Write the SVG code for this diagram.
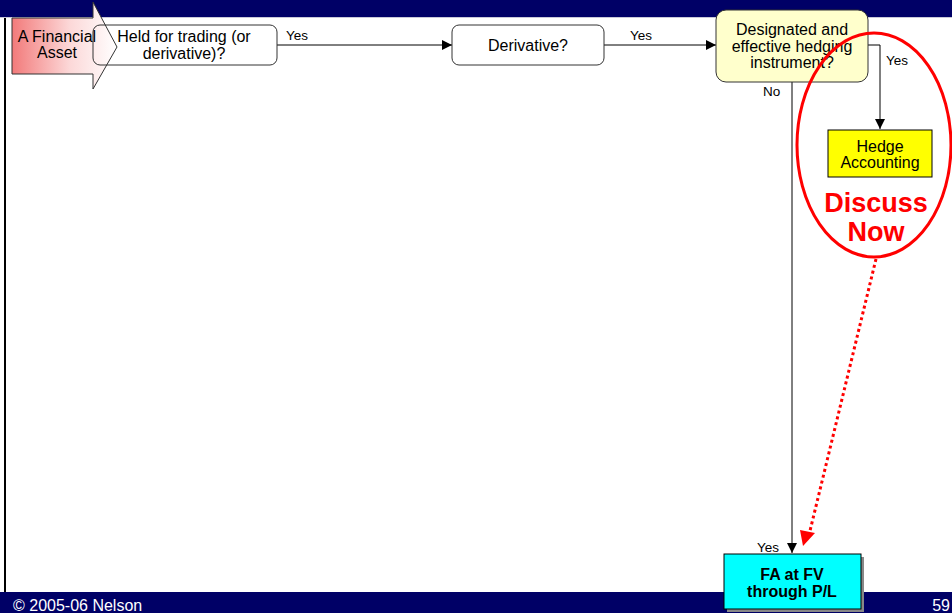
<svg xmlns="http://www.w3.org/2000/svg" width="952" height="613" viewBox="0 0 952 613">
  <style>
    text { font-family: "Liberation Sans", Arial, sans-serif; fill: #000; }
    .box { stroke: #333; stroke-width: 1; }
    .conn { stroke: #000; stroke-width: 1; fill: none; }
    .lbl { font-size: 13.5px; }
    .t16 { font-size: 16px; text-anchor: middle; }
    .bar { fill: #000066; }
  </style>
  <defs>
    <linearGradient id="assetFill" x1="0" y1="0" x2="1" y2="0">
      <stop offset="0" stop-color="#F27A7A"/>
      <stop offset="0.55" stop-color="#FCD8D8"/>
      <stop offset="1" stop-color="#FFFFFF"/>
    </linearGradient>
    <marker id="arr" viewBox="0 0 10 10" refX="10" refY="5" markerWidth="10" markerHeight="10" markerUnits="userSpaceOnUse" orient="auto">
      <path d="M0,0 L10,5 L0,10 z" fill="#000"/>
    </marker>
  </defs>

  <!-- page frame -->
  <rect x="0" y="0" width="952" height="613" fill="#FFFFFF"/>
  <rect x="4" y="0" width="2" height="613" fill="#000"/>
  <rect class="bar" x="0" y="0" width="952" height="17"/>
  <line x1="0" y1="17.5" x2="952" y2="17.5" stroke="#C8C8D8" stroke-width="1"/>
  <rect class="bar" x="0" y="592" width="952" height="21"/>
  <text x="13" y="611" font-size="16" style="fill:#FFFFFF">© 2005-06 Nelson</text>
  <text x="950" y="611" font-size="16" text-anchor="end" style="fill:#FFFFFF">59</text>

  <!-- connectors -->
  <g id="connectors">
    <line class="conn" x1="277" y1="45" x2="452" y2="45" marker-end="url(#arr)"/>
    <line class="conn" x1="604" y1="45" x2="716" y2="45" marker-end="url(#arr)"/>
    <polyline class="conn" points="868,45 880,45 880,129" marker-end="url(#arr)"/>
    <line class="conn" x1="792" y1="82" x2="792" y2="553" marker-end="url(#arr)"/>
    <text class="lbl" x="286" y="40">Yes</text>
    <text class="lbl" x="630" y="40">Yes</text>
    <text class="lbl" x="886" y="65">Yes</text>
    <text class="lbl" x="763" y="96">No</text>
    <text class="lbl" x="757" y="552">Yes</text>
  </g>

  <!-- start arrow -->
  <g id="node-asset">
    <path d="M12,18 H93 V2 L117,47 L93,89 V74 H12 Z" fill="url(#assetFill)" stroke="#333" stroke-width="1"/>
    <text x="57" y="42" class="t16">A Financial</text>
    <text x="57" y="58" class="t16">Asset</text>
  </g>

  <g id="node-held">
    <rect class="box" x="93" y="25" width="184" height="40" rx="7" fill="none"/>
    <text x="184" y="42" class="t16">Held for trading (or</text>
    <text x="184" y="59" class="t16">derivative)?</text>
  </g>

  <g id="node-derivative">
    <rect class="box" x="452" y="25" width="152" height="40" rx="7" fill="#FFFFFF"/>
    <text x="528" y="51" class="t16">Derivative?</text>
  </g>

  <g id="node-designated">
    <rect class="box" x="716" y="10" width="152" height="72" rx="10" fill="#FFFFCC"/>
    <text x="792" y="35" class="t16">Designated and</text>
    <text x="792" y="52" class="t16">effective hedging</text>
    <text x="792" y="68" class="t16">instrument?</text>
  </g>

  <g id="node-hedge">
    <rect x="828" y="130" width="104" height="47" fill="#FFFF00" stroke="#000" stroke-width="1"/>
    <text x="880" y="152" class="t16">Hedge</text>
    <text x="880" y="168" class="t16">Accounting</text>
  </g>

  <g id="node-fa">
    <rect x="727" y="557" width="137" height="55" fill="#888888"/>
    <rect x="724" y="554" width="137" height="55" fill="#00FFFF" stroke="#000" stroke-width="1"/>
    <text x="792" y="580" class="t16" font-weight="bold">FA at FV</text>
    <text x="792" y="597" class="t16" font-weight="bold">through P/L</text>
  </g>

  <!-- highlight -->
  <g id="callout">
    <ellipse cx="874" cy="145" rx="77" ry="112" fill="none" stroke="#FF0000" stroke-width="3"/>
    <text x="876" y="212" font-size="27" font-weight="bold" text-anchor="middle" style="fill:#FF0000">Discuss</text>
    <text x="876" y="241" font-size="27" font-weight="bold" text-anchor="middle" style="fill:#FF0000">Now</text>
    <line x1="876" y1="259" x2="809" y2="535" stroke="#FF0000" stroke-width="3" stroke-dasharray="3 3"/>
    <path d="M803,546 L800,530 L815,533 Z" fill="#FF0000"/>
  </g>
</svg>
